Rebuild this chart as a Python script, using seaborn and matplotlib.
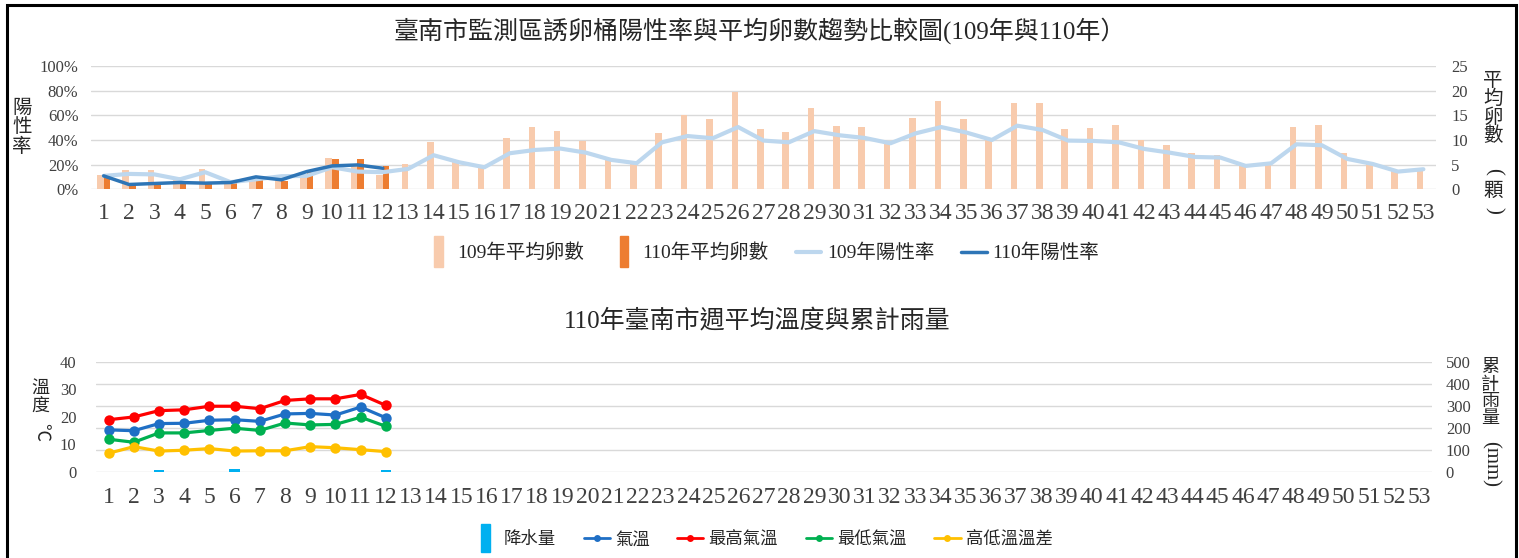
import matplotlib
matplotlib.use("Agg")
import matplotlib.pyplot as plt
import matplotlib.patches as mpatches
from matplotlib.lines import Line2D
from matplotlib.legend_handler import HandlerPatch
import seaborn as sns
import numpy as np
import pandas as pd

# ---- data ----
weeks = list(range(1, 54))

eggs_109 = [2.9, 3.8, 3.8, 2.4, 4.0, 1.6, 1.9, 2.9, 2.7, 6.3, 4.7, 2.9, 5.1,
            9.5, 5.9, 4.6, 10.4, 12.6, 11.8, 9.8, 5.9, 5.1, 11.4, 15.0, 14.2,
            19.7, 12.2, 11.6, 16.4, 12.8, 12.6, 9.4, 14.5, 18.0, 14.2, 10.0,
            17.6, 17.6, 12.2, 12.4, 13.0, 9.9, 8.9, 7.3, 6.9, 4.7, 5.3, 12.6,
            13.0, 7.3, 5.5, 3.6, 4.1]
eggs_110 = [2.9, 1.0, 1.0, 1.4, 1.2, 1.4, 2.4, 1.7, 3.6, 6.1, 6.1, 4.7]

pos_109 = [10.8, 12.4, 12.0, 8.0, 13.8, 5.7, 8.0, 10.5, 10.8, 17.8, 14.3, 13.8,
           16.5, 27.6, 21.9, 17.8, 29.2, 31.9, 33.0, 29.7, 23.8, 21.1, 38.1,
           43.2, 41.4, 50.5, 39.5, 38.1, 47.2, 43.8, 41.6, 37.3, 45.4, 50.5,
           46.0, 40.0, 51.6, 48.1, 39.5, 39.2, 38.1, 32.7, 29.7, 26.2, 25.7,
           18.9, 21.0, 36.5, 35.7, 24.6, 20.5, 14.3, 16.2]
pos_110 = [10.8, 3.8, 4.6, 5.4, 4.9, 5.4, 10.0, 7.6, 14.3, 18.9, 19.7, 17.0]

weeks_110 = list(range(1, 13))
rain = [0, 0, 6, 0, 0, 14, 0, 0, 0, 0, 0, 6]
temp_mean = [15.2, 14.9, 17.5, 17.6, 18.7, 18.9, 18.3, 21.0, 21.2, 20.6, 23.5, 19.6]
temp_max = [18.9, 19.9, 22.2, 22.5, 23.8, 23.8, 22.9, 25.9, 26.5, 26.5, 28.1, 24.1]
temp_min = [11.8, 10.7, 14.1, 14.1, 15.0, 15.8, 15.0, 17.7, 17.0, 17.2, 19.8, 16.5]
temp_diff = [6.7, 9.1, 7.5, 7.8, 8.4, 7.5, 7.6, 7.6, 9.1, 8.7, 8.0, 7.3]

c109_bar, c110_bar = "#F8CBAD", "#ED7D31"
c109_line, c110_line = "#BDD7EE", "#2E75B6"
c_rain = "#00B0F0"
temp_colors = {"氣溫": "#1F6FC5", "最高氣溫": "#FF0000",
               "最低氣溫": "#00B050", "高低溫溫差": "#FFC000"}

sns.set_style("white")
plt.rcParams["font.family"] = ["Liberation Serif", "Noto Sans CJK TC"]
tick_c = "#404040"
grid_c = "#D9D9D9"
txt_c = "#262626"

fig = plt.figure(figsize=(15.19, 5.58), dpi=100)
fig.patches.append(mpatches.Rectangle((0.0045, -0.02), 0.9935, 1.011,
                                      transform=fig.transFigure, fill=False,
                                      edgecolor="black", linewidth=2.2))


def tall_patch(legend, orig_handle, xdescent, ydescent, width, height, fontsize):
    return mpatches.Rectangle((-xdescent + width / 2 - 3, -ydescent - 0.45 * fontsize),
                              6, 1.6 * fontsize)


def style_pair(a_bar, a_line):
    a_bar.yaxis.tick_right()
    a_line.yaxis.tick_left()
    for a in (a_bar, a_line):
        a.set_xlim(-0.5, len(weeks) - 0.5)
        a.set_xlabel("")
        a.set_ylabel("")
        for s in a.spines.values():
            s.set_visible(False)
        a.tick_params(length=0, colors=tick_c)
    a_bar.set_xticks(range(len(weeks)))
    a_bar.set_xticklabels([str(w) for w in weeks], fontsize=17)


# ================= top chart =================
ax = fig.add_axes([0.0599, 0.661, 0.8855, 0.2204])
egg_df = pd.DataFrame({
    "week": weeks + weeks_110,
    "eggs": eggs_109 + eggs_110,
    "year": ["109"] * len(weeks) + ["110"] * len(weeks_110),
})
sns.barplot(data=egg_df, x="week", y="eggs", hue="year", order=weeks,
            hue_order=["109", "110"], palette=[c109_bar, c110_bar],
            width=0.52, saturation=1, linewidth=0, legend=False, ax=ax)
ax.set_ylim(0, 25)
ax.set_yticks(range(0, 26, 5))
ax.grid(axis="y", color=grid_c, linewidth=1)
ax.set_axisbelow(True)

ax2 = ax.twinx()
sns.lineplot(x=np.arange(len(weeks)), y=pos_109, color=c109_line, linewidth=3, ax=ax2)
sns.lineplot(x=np.arange(len(weeks_110)), y=pos_110, color=c110_line, linewidth=2.5, ax=ax2)
ax2.set_ylim(0, 100)
ax2.set_yticks(range(0, 101, 20))
ax2.set_yticklabels([f"{v}%" for v in range(0, 101, 20)])

style_pair(ax, ax2)
ax.tick_params(axis="x", pad=10)
ax.tick_params(axis="y", labelsize=12, pad=11)
ax2.tick_params(axis="y", labelsize=12, pad=9)

fig.text(0.5, 0.946, "臺南市監測區誘卵桶陽性率與平均卵數趨勢比較圖(109年與110年）",
         ha="center", va="center", fontsize=18, color=txt_c)
fig.text(0.0145, 0.771, "陽\n性\n率", ha="center", va="center",
         fontsize=14, linespacing=1.1, color=txt_c)
# right label: 平均卵數(顆), parentheses turned like the vertical text
fig.text(0.983, 0.805, "平\n均\n卵\n數", ha="center", va="center",
         fontsize=14, linespacing=1.0, color=txt_c)
fig.text(0.983, 0.693, "(", ha="center", va="center", rotation=270,
         fontsize=15, color=txt_c)
fig.text(0.983, 0.658, "顆", ha="center", va="center", fontsize=14, color=txt_c)
fig.text(0.983, 0.622, ")", ha="center", va="center", rotation=270,
         fontsize=15, color=txt_c)

top_handles = [mpatches.Patch(color=c109_bar), mpatches.Patch(color=c110_bar),
               Line2D([], [], color=c109_line, linewidth=3),
               Line2D([], [], color=c110_line, linewidth=2.5)]
top_labels = ["109年平均卵數", "110年平均卵數", "109年陽性率", "110年陽性率"]
fig.legend(top_handles, top_labels, loc="center", bbox_to_anchor=(0.502, 0.5466),
           ncol=4, frameon=False, fontsize=14, handlelength=1.3,
           handletextpad=0.3, columnspacing=1.4,
           handler_map={mpatches.Patch: HandlerPatch(patch_func=tall_patch)},
           labelcolor=txt_c)

# ================= bottom chart =================
ax3 = fig.add_axes([0.0632, 0.1547, 0.8795, 0.1971])
rain_df = pd.DataFrame({"week": weeks_110, "rain": rain})
sns.barplot(data=rain_df, x="week", y="rain", order=weeks, color=c_rain,
            width=0.42, saturation=1, linewidth=0, ax=ax3)
ax3.set_ylim(0, 500)
ax3.set_yticks(range(0, 501, 100))
ax3.grid(axis="y", color=grid_c, linewidth=1)
ax3.set_axisbelow(True)

ax4 = ax3.twinx()
temp_df = pd.DataFrame({
    "pos": list(range(len(weeks_110))) * 4,
    "value": temp_mean + temp_max + temp_min + temp_diff,
    "series": (["氣溫"] * 12 + ["最高氣溫"] * 12 + ["最低氣溫"] * 12 + ["高低溫溫差"] * 12),
})
sns.lineplot(data=temp_df, x="pos", y="value", hue="series",
             hue_order=list(temp_colors), palette=temp_colors, marker="o",
             markersize=7.5, markeredgewidth=0, linewidth=2.3, legend=False, ax=ax4)
ax4.set_ylim(0, 40)
ax4.set_yticks(range(0, 41, 10))

style_pair(ax3, ax4)
ax3.tick_params(axis="x", pad=11)
ax3.tick_params(axis="y", labelsize=12, pad=10)
ax4.tick_params(axis="y", labelsize=12, pad=14)

fig.text(0.4985, 0.4265, "110年臺南市週平均溫度與累計雨量",
         ha="center", va="center", fontsize=18, color=txt_c)
fig.text(0.0265, 0.287, "溫\n度", ha="center", va="center",
         fontsize=13, linespacing=1.0, color=txt_c)
fig.text(0.0265, 0.225, "℃", ha="center", va="center", rotation=270,
         fontsize=13, color=txt_c)
fig.text(0.981, 0.295, "累\n計\n雨\n量", ha="center", va="center",
         fontsize=13, linespacing=1.0, color=txt_c)
fig.text(0.981, 0.168, "(mm)", ha="center", va="center", rotation=270,
         fontsize=15, color=txt_c)

bot_handles = [mpatches.Patch(color=c_rain)] + [
    Line2D([], [], color=c, linewidth=2, marker="o", markersize=5, markeredgewidth=0)
    for c in temp_colors.values()]
bot_labels = ["降水量"] + list(temp_colors)
fig.legend(bot_handles, bot_labels, loc="center", bbox_to_anchor=(0.502, 0.032),
           ncol=5, frameon=False, fontsize=12.5, handlelength=1.5,
           handletextpad=0.3, columnspacing=1.6,
           handler_map={mpatches.Patch: HandlerPatch(patch_func=tall_patch)},
           labelcolor=txt_c)

fig.savefig("out.png", dpi=100)
